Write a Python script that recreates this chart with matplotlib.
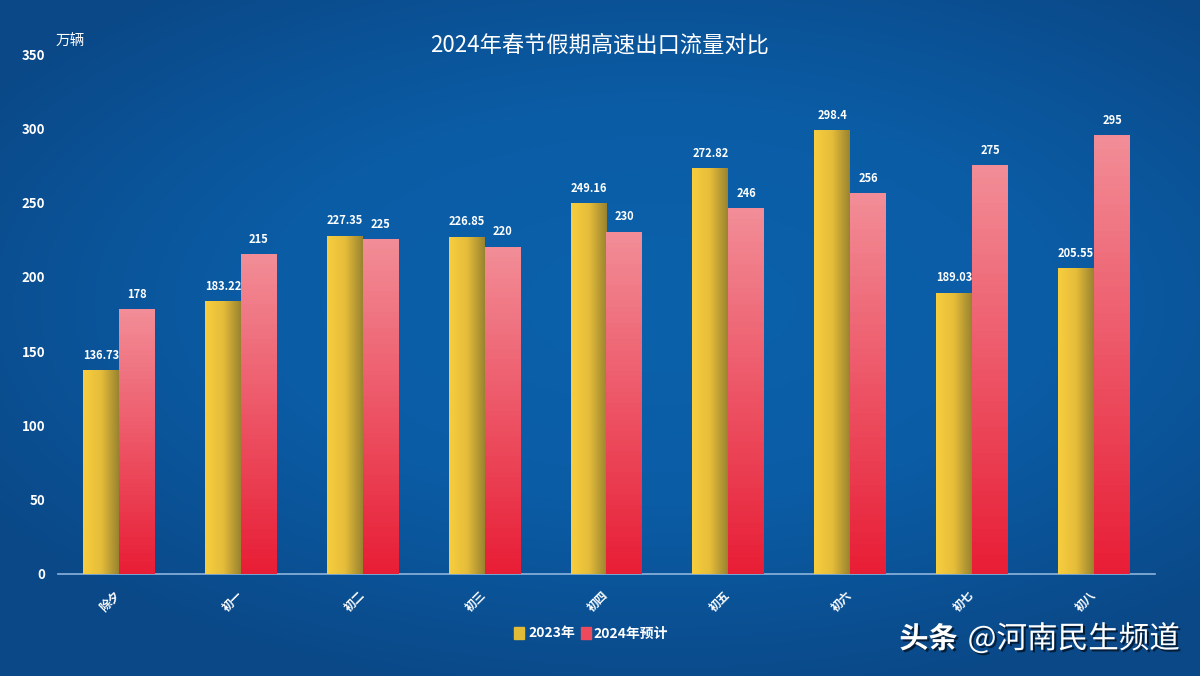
import numpy as np
import matplotlib.pyplot as plt
from matplotlib.colors import LinearSegmentedColormap
from matplotlib.transforms import ScaledTranslation
import matplotlib.patheffects as pe

plt.rcParams['font.family'] = ['Noto Sans CJK SC', 'DejaVu Sans']

categories = ['除夕', '初一', '初二', '初三', '初四', '初五', '初六', '初七', '初八']
v2023 = [136.73, 183.22, 227.35, 226.85, 249.16, 272.82, 298.4, 189.03, 205.55]
v2024 = [178, 215, 225, 220, 230, 246, 256, 275, 295]
yticks = [0, 50, 100, 150, 200, 250, 300, 350]

fig = plt.figure(figsize=(12, 6.76), dpi=100)

# background radial gradient
bg = fig.add_axes([0, 0, 1, 1])
yy, xx = np.mgrid[0:1:300j, 0:1:500j]
r = np.sqrt(((xx - 0.55) / 0.9) ** 2 + ((yy - 0.45) / 0.8) ** 2)
bg_cmap = LinearSegmentedColormap.from_list('bg', ['#0a62ab', '#0a5ca5', '#0b4887'])
bg.imshow(r, cmap=bg_cmap, aspect='auto', extent=[0, 1, 0, 1], vmin=0, vmax=0.75)
bg.axis('off')

ax = fig.add_axes([0.0483, 0.1509, 0.9142, 0.7691])
ax.set_facecolor('none')

x = np.arange(len(categories))
w = 0.295
b1 = ax.bar(x - w / 2, v2023, w, color='#f0c23a', zorder=2)
b2 = ax.bar(x + w / 2, v2024, w, color='#ee5564', zorder=2)

yel = LinearSegmentedColormap.from_list('yel', ['#f8cd3e', '#e6bd3a', '#9a8430'])
red = LinearSegmentedColormap.from_list('red', ['#e81e36', '#f28d97'])
hgrad = np.linspace(0, 1, 64).reshape(1, -1)
vgrad = np.linspace(0, 1, 64).reshape(-1, 1)
for p in b1:
    ax.imshow(hgrad, cmap=yel, aspect='auto', zorder=3,
              extent=[p.get_x(), p.get_x() + p.get_width(), 0, p.get_height()])
for p in b2:
    ax.imshow(vgrad, cmap=red, aspect='auto', origin='lower', zorder=3,
              extent=[p.get_x(), p.get_x() + p.get_width(), 0, p.get_height()])

for bars, vals in [(b1, v2023), (b2, v2024)]:
    for p, v in zip(bars, vals):
        ax.text(p.get_x() + p.get_width() / 2, p.get_height() + 6, f'{v:g}',
                ha='center', va='bottom', color='white', fontsize=8, fontweight='bold')

ax.set_xlim(-0.5, len(categories) - 0.5)
ax.set_ylim(0, 350)
ax.set_yticks(yticks)
ax.set_yticklabels([str(t) for t in yticks], color='white', fontsize=9.5, fontweight='bold')
ax.set_xticks(x)
ax.set_xticklabels(categories, rotation=45, color='white', fontsize=8.5,
                   fontweight='bold', ha='right', va='center', rotation_mode='anchor')
shift = ScaledTranslation(-5 / 100, 0, fig.dpi_scale_trans)
for lbl in ax.get_xticklabels():
    lbl.set_transform(lbl.get_transform() + shift)
ax.tick_params(axis='both', length=0)
ax.tick_params(axis='y', pad=9)
ax.tick_params(axis='x', pad=14)
for s in ['top', 'right', 'left']:
    ax.spines[s].set_visible(False)
ax.spines['bottom'].set_color('#8db4dc')
ax.spines['bottom'].set_linewidth(1.2)

fig.text(0.5, 0.934, '2024年春节假期高速出口流量对比', ha='center', va='center',
         color='white', fontsize=16)
fig.text(0.046, 0.938, '万辆', ha='left', va='center', color='white', fontsize=10.5)

# legend
fig.patches.append(plt.Rectangle((0.428, 0.055), 0.0085, 0.017, transform=fig.transFigure,
                                 color='#e2bb38'))
fig.text(0.440, 0.063, '2023年', ha='left', va='center', color='white',
         fontsize=10, fontweight='bold')
fig.patches.append(plt.Rectangle((0.4842, 0.055), 0.0085, 0.017, transform=fig.transFigure,
                                 color='#ef4a5c'))
fig.text(0.4945, 0.063, '2024年预计', ha='left', va='center', color='white',
         fontsize=10, fontweight='bold')

# watermark
shadow = [pe.withSimplePatchShadow(offset=(1.5, -1.5), shadow_rgbFace='black', alpha=0.6)]
fig.text(0.798, 0.055, '头条', ha='right', va='center', color='white',
         fontsize=21, fontweight='bold', path_effects=shadow)
fig.text(0.983, 0.055, '@河南民生频道', ha='right', va='center', color='white',
         fontsize=22, path_effects=shadow)

fig.savefig('out.png', dpi=100)
